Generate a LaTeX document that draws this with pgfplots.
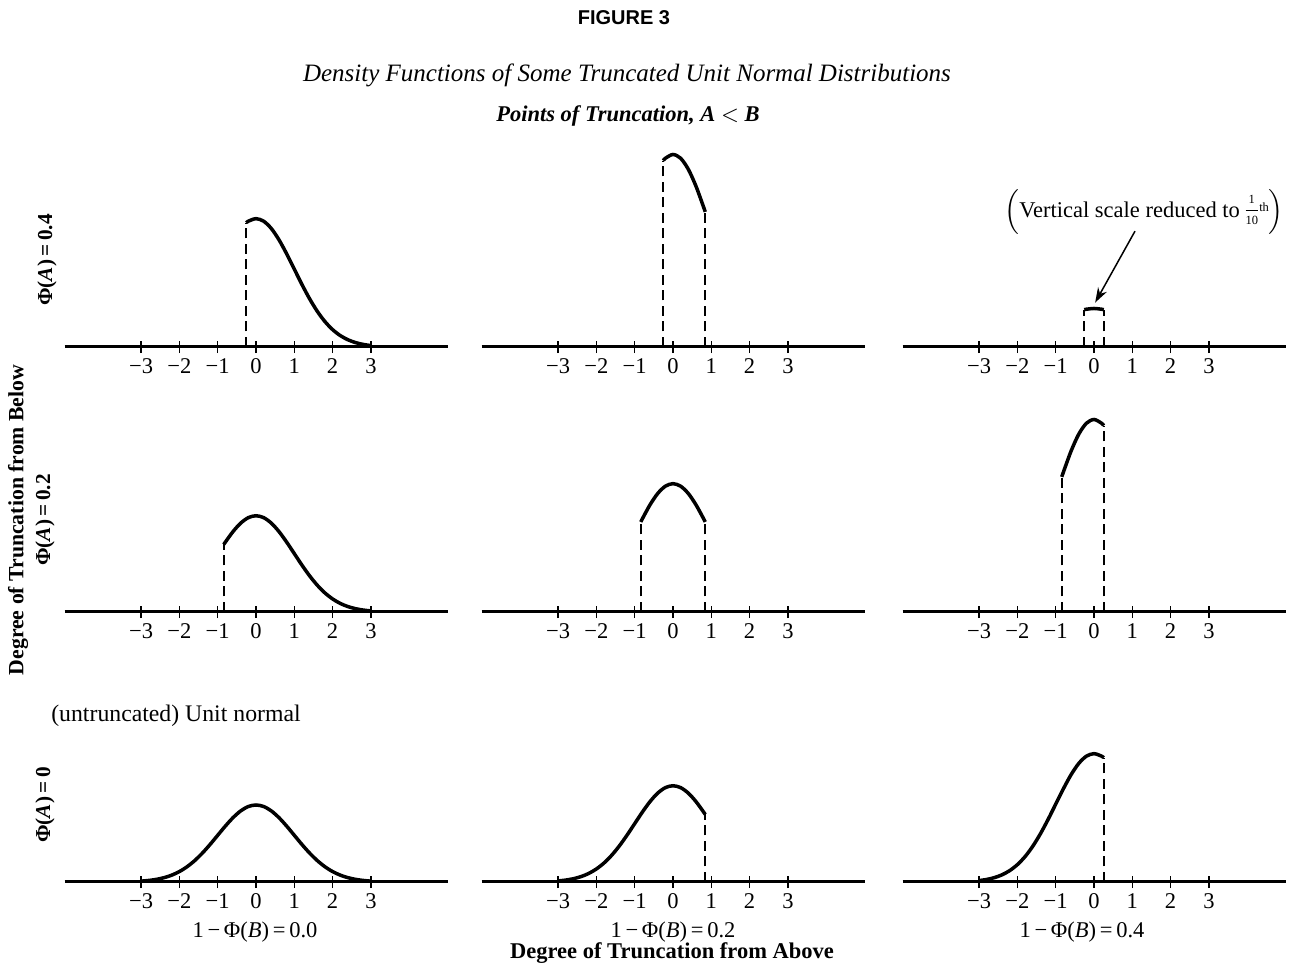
\documentclass[border=0pt]{standalone}
\usepackage{fontspec}
\setmainfont{Liberation Serif}
\newfontfamily\figfont{Liberation Sans}
\usepackage{pgfplots}
\pgfplotsset{compat=1.18}
\usetikzlibrary{arrows.meta}

\pgfplotsset{
  panel/.style={
    x=15.32pt, y=77.2pt,
    xmin=-5, xmax=5, ymin=0, ymax=1.1,
    axis x line=bottom, axis y line=none,
    x axis line style={-, line width=1.2pt},
    xtick={-3,...,3},
    xticklabels={−3,−2,−1,0,1,2,3},
    tick align=center, major tick length=5pt,
    xtick style={line width=0.6pt, black},
    xticklabel style={font=\fontsize{9}{10}\selectfont, inner sep=1pt, yshift=-1pt},
    clip=false, anchor=south west,
  },
  dens/.style={line width=1.4pt, smooth, no marks, black},
  cut/.style={line width=0.8pt, dash pattern=on 4pt off 2.2pt, no marks, black},
}

\begin{document}
\begin{tikzpicture}
\useasboundingbox (0,0) rectangle (519.6pt,386.8pt);

% ---- row 1: Phi(A) = 0.4 ----
\begin{axis}[panel, at={(25.8pt,248pt)}]
\addplot[dens] coordinates {(-0.253,0.64396) (-0.2,0.65174) (0,0.66490) (0.2,0.65174) (0.4,0.61378) (0.6,0.55538) (0.8,0.48282) (1.0,0.40329) (1.2,0.32364) (1.4,0.24955) (1.6,0.18487) (1.8,0.13158) (2.0,0.08999) (2.2,0.05913) (2.4,0.03733) (2.6,0.02264) (2.8,0.01319) (3.0,0.00739)};
\addplot[cut] coordinates {(-0.253,0) (-0.253,0.64396)};
\end{axis}

\begin{axis}[panel, at={(192.6pt,248pt)}]
\addplot[dens] coordinates {(-0.253,0.96594) (-0.2,0.97761) (0,0.99736) (0.2,0.97761) (0.4,0.92068) (0.6,0.83306) (0.8,0.72423) (0.8416,0.69991)};
\addplot[cut] coordinates {(-0.253,0) (-0.253,0.96594)};
\addplot[cut] coordinates {(0.8416,0) (0.8416,0.69991)};
\end{axis}

\begin{axis}[panel, at={(361pt,248pt)}]
% vertical scale reduced to 1/10th
\addplot[dens] coordinates {(-0.253,0.19319) (-0.2,0.19552) (0,0.19947) (0.2,0.19552) (0.253,0.19319)};
\addplot[cut] coordinates {(-0.253,0) (-0.253,0.19319)};
\addplot[cut] coordinates {(0.253,0) (0.253,0.19319)};
\draw[-{Stealth[length=6pt,width=4pt]}, line width=0.6pt] (axis cs:1.07,0.60) -- (axis cs:0.03,0.23);
\node[font=\fontsize{9}{11}\selectfont] at (axis cs:1.31,0.70) {$\Bigl($Vertical scale reduced to \raisebox{-2.6pt}{\shortstack{\fontsize{5}{5}\selectfont 1\\[-0.5pt]\rule{5pt}{0.4pt}\\[-1pt]\fontsize{5}{5}\selectfont 10}}\kern0.5pt\raisebox{2.5pt}{\fontsize{5}{5}\selectfont th}$\Bigr)$};
\end{axis}

% ---- row 2: Phi(A) = 0.2 ----
\begin{axis}[panel, at={(25.8pt,142pt)}]
\addplot[dens] coordinates {(-0.8416,0.34995) (-0.8,0.36212) (-0.6,0.41653) (-0.4,0.46034) (-0.2,0.48880) (0,0.49868) (0.2,0.48880) (0.4,0.46034) (0.6,0.41653) (0.8,0.36212) (1.0,0.30246) (1.2,0.24273) (1.4,0.18716) (1.6,0.13865) (1.8,0.09869) (2.0,0.06749) (2.2,0.04434) (2.4,0.02799) (2.6,0.01698) (2.8,0.00989) (3.0,0.00554)};
\addplot[cut] coordinates {(-0.8416,0) (-0.8416,0.34995)};
\end{axis}

\begin{axis}[panel, at={(192.6pt,142pt)}]
\addplot[dens] coordinates {(-0.8416,0.46660) (-0.8,0.48282) (-0.6,0.55538) (-0.4,0.61378) (-0.2,0.65174) (0,0.66490) (0.2,0.65174) (0.4,0.61378) (0.6,0.55538) (0.8,0.48282) (0.8416,0.46660)};
\addplot[cut] coordinates {(-0.8416,0) (-0.8416,0.46660)};
\addplot[cut] coordinates {(0.8416,0) (0.8416,0.46660)};
\end{axis}

\begin{axis}[panel, at={(361pt,142pt)}]
\addplot[dens] coordinates {(-0.8416,0.69991) (-0.8,0.72423) (-0.6,0.83306) (-0.4,0.92068) (-0.2,0.97761) (0,0.99736) (0.2,0.97761) (0.253,0.96594)};
\addplot[cut] coordinates {(-0.8416,0) (-0.8416,0.69991)};
\addplot[cut] coordinates {(0.253,0) (0.253,0.96594)};
\end{axis}

% ---- row 3: Phi(A) = 0 ----
\begin{axis}[panel, at={(25.8pt,34pt)}]
\addplot[dens] coordinates {(-3,0.00443) (-2.8,0.00792) (-2.6,0.01358) (-2.4,0.02239) (-2.2,0.03547) (-2.0,0.05399) (-1.8,0.07895) (-1.6,0.11092) (-1.4,0.14973) (-1.2,0.19419) (-1.0,0.24197) (-0.8,0.28969) (-0.6,0.33322) (-0.4,0.36827) (-0.2,0.39104) (0,0.39894) (0.2,0.39104) (0.4,0.36827) (0.6,0.33322) (0.8,0.28969) (1.0,0.24197) (1.2,0.19419) (1.4,0.14973) (1.6,0.11092) (1.8,0.07895) (2.0,0.05399) (2.2,0.03547) (2.4,0.02239) (2.6,0.01358) (2.8,0.00792) (3.0,0.00443)};
\end{axis}

\begin{axis}[panel, at={(192.6pt,34pt)}]
\addplot[dens] coordinates {(-3,0.00554) (-2.8,0.00989) (-2.6,0.01698) (-2.4,0.02799) (-2.2,0.04434) (-2.0,0.06749) (-1.8,0.09869) (-1.6,0.13865) (-1.4,0.18716) (-1.2,0.24273) (-1.0,0.30246) (-0.8,0.36212) (-0.6,0.41653) (-0.4,0.46034) (-0.2,0.48880) (0,0.49868) (0.2,0.48880) (0.4,0.46034) (0.6,0.41653) (0.8,0.36212) (0.8416,0.34995)};
\addplot[cut] coordinates {(0.8416,0) (0.8416,0.34995)};
\end{axis}

\begin{axis}[panel, at={(361pt,34pt)}]
\addplot[dens] coordinates {(-3,0.00739) (-2.8,0.01319) (-2.6,0.02264) (-2.4,0.03733) (-2.2,0.05913) (-2.0,0.08999) (-1.8,0.13158) (-1.6,0.18487) (-1.4,0.24955) (-1.2,0.32364) (-1.0,0.40329) (-0.8,0.48282) (-0.6,0.55538) (-0.4,0.61378) (-0.2,0.65174) (0,0.66490) (0.2,0.65174) (0.253,0.64396)};
\addplot[cut] coordinates {(0.253,0) (0.253,0.64396)};
\end{axis}

% ---- titles and labels ----
\node[font=\figfont\bfseries\fontsize{8}{9}\selectfont] at (249.6pt,379.6pt) {FIGURE 3};
\node[font=\itshape\fontsize{10}{12}\selectfont] at (250.8pt,356.8pt) {Density Functions of Some Truncated Unit Normal Distributions};
\node[font=\bfseries\itshape\fontsize{9}{10}\selectfont] at (251.2pt,340.4pt) {Points of Truncation, \textit{A} $<$ \textit{B}};

\node[rotate=90, font=\bfseries\fontsize{8.5}{10}\selectfont] at (18.8pt,282.8pt) {Φ(\textit{A})\,=\,0.4};
\node[rotate=90, font=\bfseries\fontsize{8.5}{10}\selectfont] at (18pt,178.8pt) {Φ(\textit{A})\,=\,0.2};
\node[rotate=90, font=\bfseries\fontsize{8.5}{10}\selectfont] at (18pt,64.8pt) {Φ(\textit{A})\,=\,0};
\node[rotate=90, font=\bfseries\fontsize{8.7}{10}\selectfont] at (7.2pt,178.8pt) {Degree of Truncation from Below};

\node[anchor=west, font=\fontsize{9.5}{11}\selectfont] at (17pt,100.4pt) {(untruncated) Unit normal};

\node[font=\fontsize{9}{10}\selectfont] at (102pt,14pt) {1\,−\,Φ(\textit{B})\,=\,0.0};
\node[font=\fontsize{9}{10}\selectfont] at (269.2pt,14pt) {1\,−\,Φ(\textit{B})\,=\,0.2};
\node[font=\fontsize{9}{10}\selectfont] at (432.8pt,14pt) {1\,−\,Φ(\textit{B})\,=\,0.4};
\node[font=\bfseries\fontsize{9}{10}\selectfont] at (268.8pt,5.6pt) {Degree of Truncation from Above};
\end{tikzpicture}
\end{document}
